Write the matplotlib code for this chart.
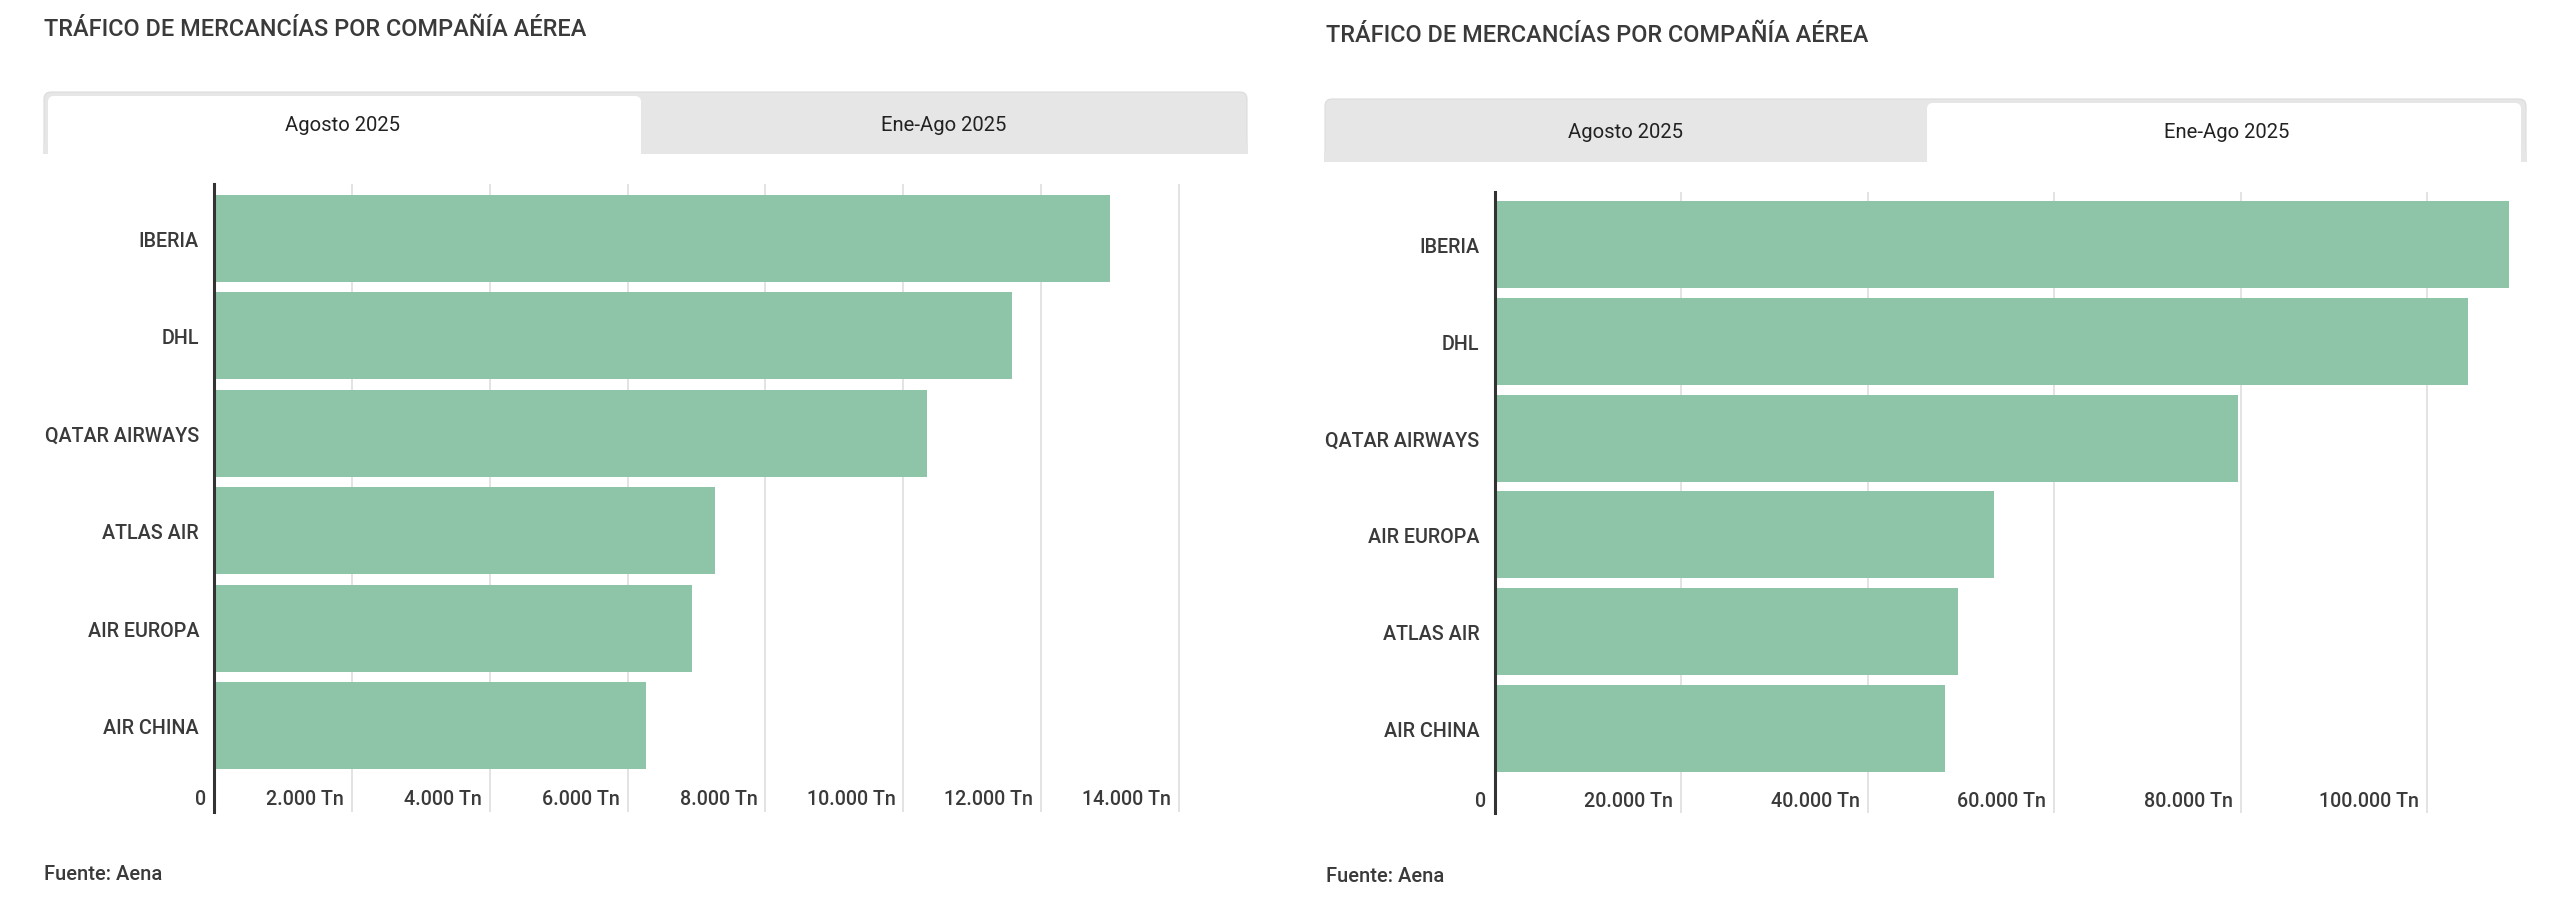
import matplotlib
matplotlib.use('Agg')
import matplotlib.pyplot as plt
import matplotlib.transforms as mtransforms
from matplotlib.patches import FancyBboxPatch, Rectangle

plt.rcParams['font.family'] = ['Roboto', 'DejaVu Sans']

# ── Datos ─────────────────────────────────────────────────────────────────────
TITLE = 'TRÁFICO DE MERCANCÍAS POR COMPAÑÍA AÉREA'
SOURCE = 'Fuente: Aena'
TABS = ['Agosto 2025', 'Ene-Ago 2025']

ago_airlines = ['IBERIA', 'DHL', 'QATAR AIRWAYS', 'ATLAS AIR', 'AIR EUROPA', 'AIR CHINA']
ago_tn = [13000, 11580, 10350, 7270, 6940, 6270]
ago_ticks = [0, 2000, 4000, 6000, 8000, 10000, 12000, 14000]

ene_ago_airlines = ['IBERIA', 'DHL', 'QATAR AIRWAYS', 'AIR EUROPA', 'ATLAS AIR', 'AIR CHINA']
ene_ago_tn = [108800, 104400, 79700, 53600, 49700, 48300]
ene_ago_ticks = [0, 20000, 40000, 60000, 80000, 100000]

BAR_COLOR = '#8ec4a8'
GRID_COLOR = '#dedede'
TAB_GRAY = '#e6e6e6'
TEXT = '#3a3a3a'

W, H = 2560, 903
fig = plt.figure(figsize=(W / 100, H / 100), dpi=100)
fig.patch.set_facecolor('white')

# fondo en coordenadas de píxel para pestañas y textos
bg = fig.add_axes([0, 0, 1, 1])
bg.set_xlim(0, W)
bg.set_ylim(H, 0)
bg.axis('off')


def fmt(v):
    return '0' if v == 0 else f'{v:,.0f}'.replace(',', '.') + ' Tn'


def panel(names, values, ticks, active, lay):
    # título y fuente
    bg.text(lay['x0'], lay['title_y'], TITLE, fontsize=16.9, fontweight='medium',
            color=TEXT, ha='left', va='center')
    bg.text(lay['x0'], lay['src_y'], SOURCE, fontsize=14.5, fontweight='medium',
            color=TEXT, ha='left', va='center')

    # pestañas
    tx0, tx1, ty0, ty1 = lay['tab']
    bg.add_patch(FancyBboxPatch((tx0, ty0), tx1 - tx0, ty1 - ty0,
                                boxstyle='round,pad=0,rounding_size=7',
                                fc=TAB_GRAY, ec='#dcdcdc', lw=0.8))
    bg.add_patch(Rectangle((tx0 - 1, ty1 - 10), tx1 - tx0 + 2, 11, fc=TAB_GRAY, ec='none'))
    mid = lay['tab_mid']
    if active == 0:
        ax0, ax1 = tx0 + 4, mid
    else:
        ax0, ax1 = mid, tx1 - 5
    bg.add_patch(FancyBboxPatch((ax0, ty0 + 4), ax1 - ax0, ty1 - ty0 - 4,
                                boxstyle='round,pad=0,rounding_size=6',
                                fc='white', ec='none'))
    bg.add_patch(Rectangle((ax0, ty1 - 10), ax1 - ax0, 11, fc='white', ec='none'))
    ty = (ty0 + 4 + ty1) / 2
    bg.text((tx0 + mid) / 2, ty, TABS[0], fontsize=14.6, color='#222222',
            ha='center', va='center')
    bg.text((mid + tx1) / 2, ty, TABS[1], fontsize=14.6, color='#222222',
            ha='center', va='center')

    # área del gráfico
    sx, gx, right = lay['spine_x'], lay['last_grid_x'], lay['right']
    top, bottom = lay['top'], lay['bottom']
    ax = fig.add_axes([sx / W, 1 - bottom / H, (right - sx) / W, (bottom - top) / H])
    ax.set_facecolor('none')
    xmax = ticks[-1] * (right - sx) / (gx - sx)
    ax.set_xlim(0, xmax)

    pitch, c0 = lay['pitch'], lay['center0']
    ax.set_ylim((bottom - c0) / pitch, -(c0 - top) / pitch)
    ypos = list(range(len(names)))
    ax.barh(ypos, values, height=87 / pitch, color=BAR_COLOR, zorder=2)

    ax.set_yticks(ypos)
    ax.set_yticklabels(names, fontsize=14.2, fontweight='medium', color=TEXT)
    ax.tick_params(axis='y', length=0, pad=15 * 72 / 100)   # 15 px
    ax.set_xticks(ticks)
    ax.tick_params(axis='x', length=0, labelbottom=False)
    ax.grid(axis='x', color=GRID_COLOR, lw=1.2, zorder=0)
    ax.set_axisbelow(True)

    for s in ('top', 'right', 'bottom'):
        ax.spines[s].set_visible(False)
    ax.spines['left'].set_color('#333333')
    ax.spines['left'].set_linewidth(2.2)
    ax.spines['left'].set_zorder(3)

    # etiquetas del eje x, a la izquierda de cada línea de rejilla
    trans = mtransforms.blended_transform_factory(ax.transData, ax.transAxes)
    trans = mtransforms.offset_copy(trans, fig=fig, x=-8, y=0, units='dots')
    ly = (bottom - lay['tick_y']) / (bottom - top)
    for t in ticks:
        ax.text(t, ly, fmt(t), transform=trans, ha='right', va='center',
                fontsize=14.2, fontweight='medium', color=TEXT)


panel(ago_airlines, ago_tn, ago_ticks, 0,
      dict(x0=44, title_y=29, src_y=875, tab=(44, 1247, 93, 154), tab_mid=641,
           spine_x=214, last_grid_x=1179, right=1183, top=185, bottom=813,
           pitch=97.4, center0=239.5, tick_y=800))

panel(ene_ago_airlines, ene_ago_tn, ene_ago_ticks, 1,
      dict(x0=1326, title_y=35, src_y=877, tab=(1325, 2526, 100, 162), tab_mid=1927,
           spine_x=1494.6, last_grid_x=2427, right=2512, top=193, bottom=814,
           pitch=96.8, center0=245.5, tick_y=802))

fig.savefig('out.png', dpi=100, facecolor='white')
